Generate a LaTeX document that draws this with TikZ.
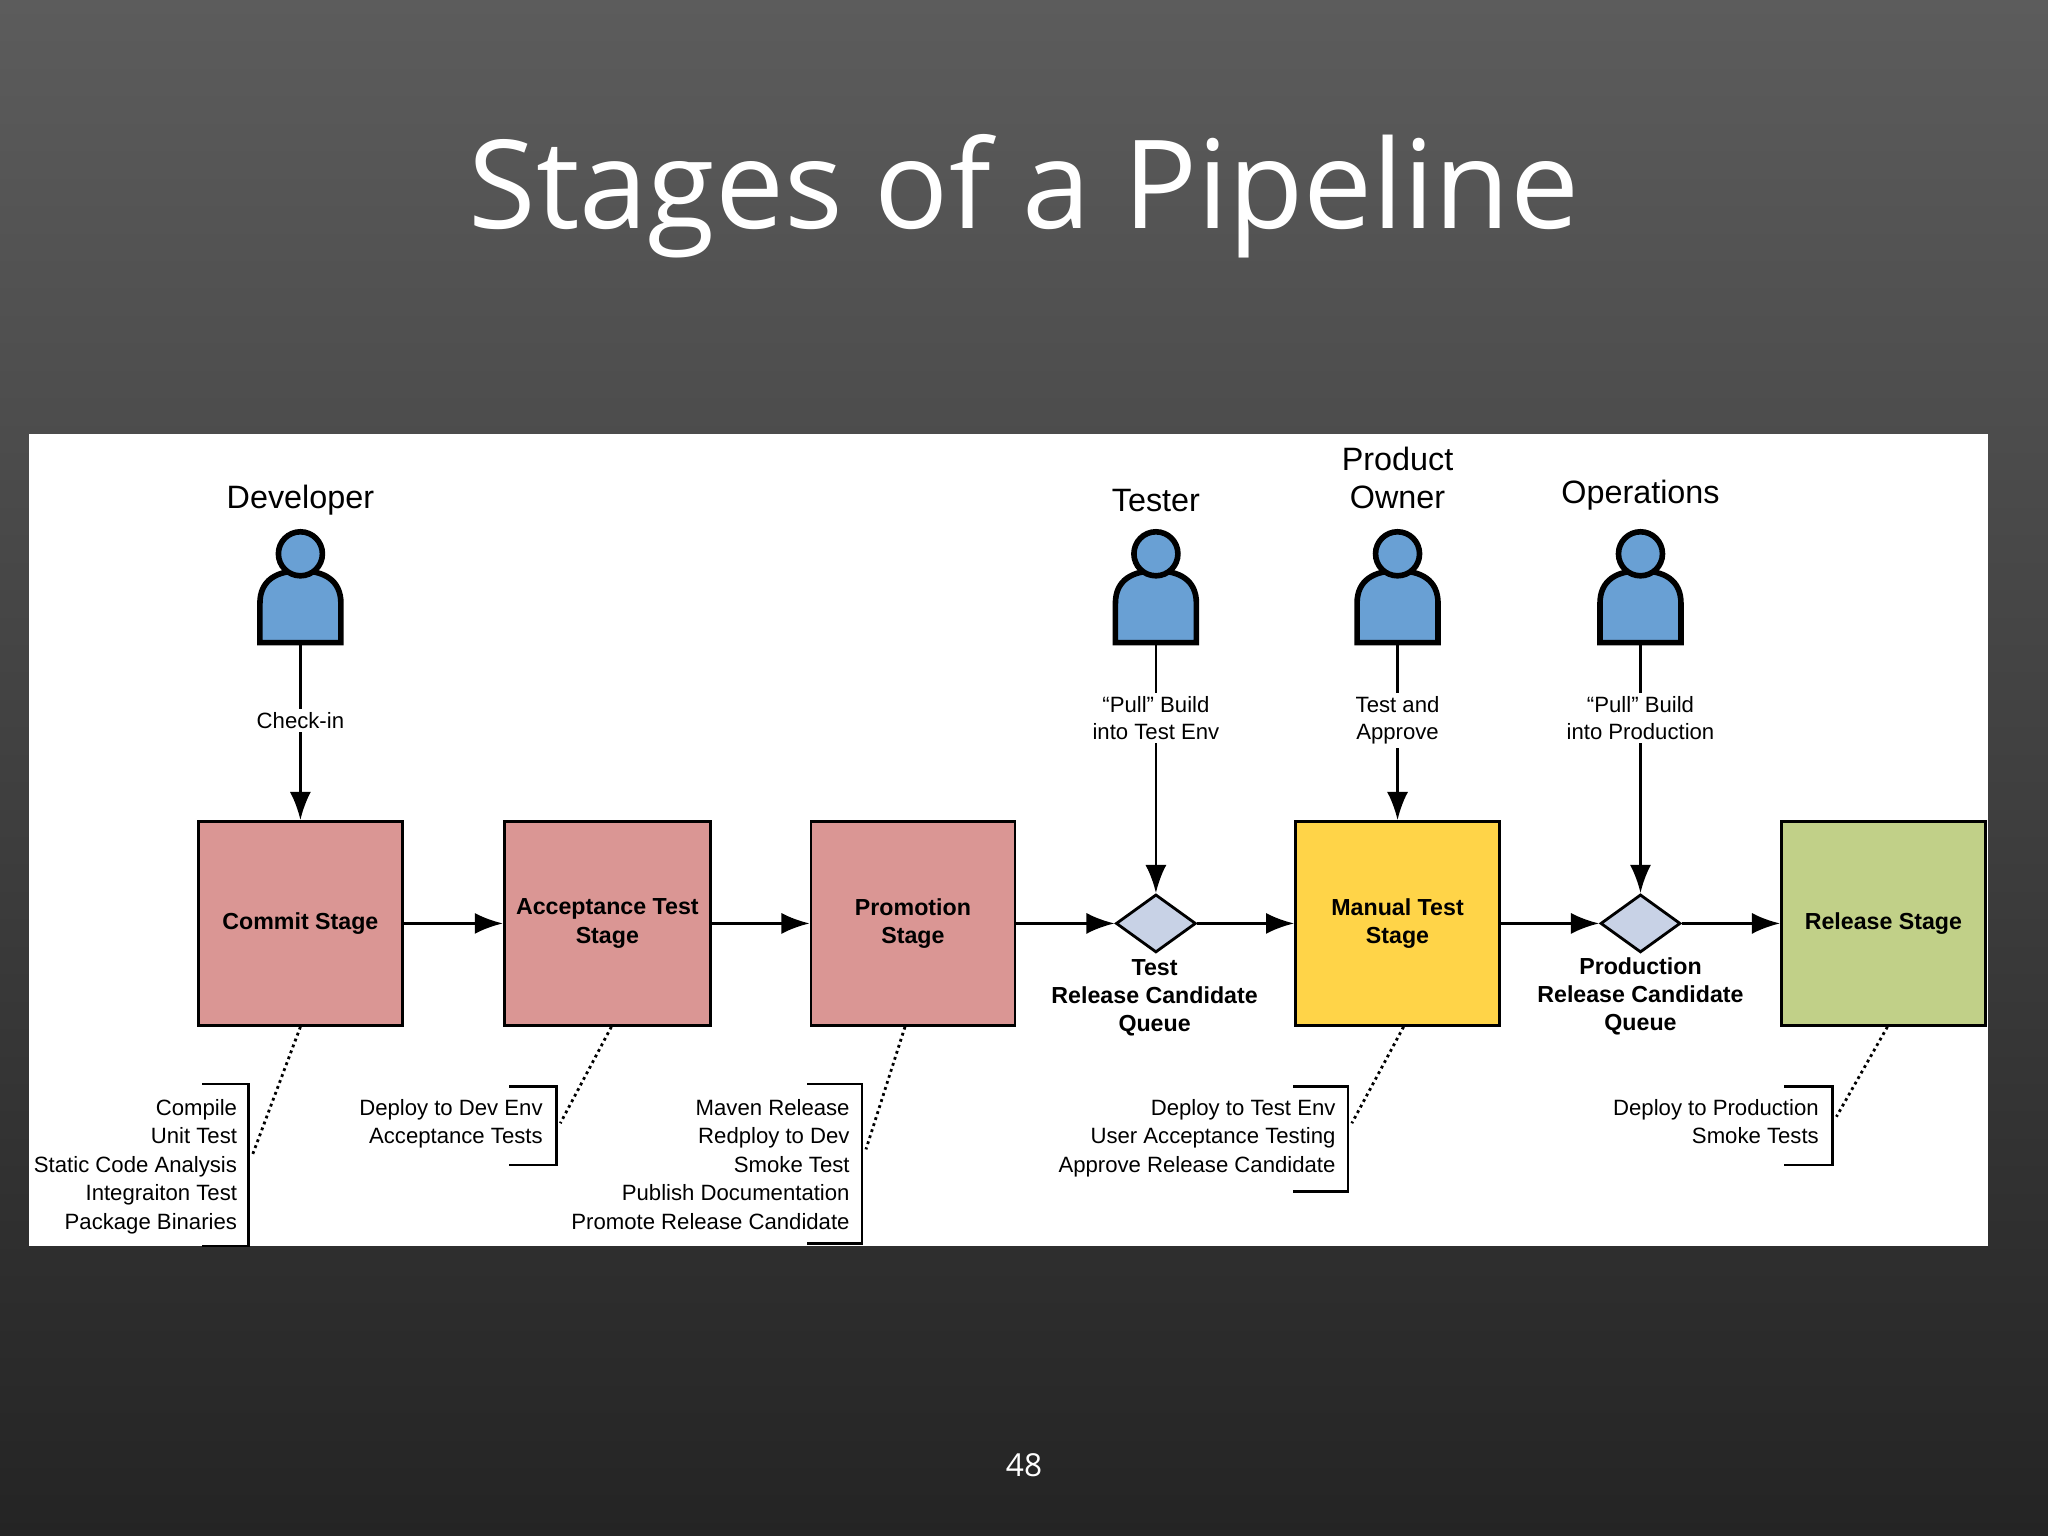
\documentclass[tikz,border=0pt]{standalone}
\usepackage{fontspec}
\setmainfont{Liberation Sans}
\newfontfamily\titlefont{Open Sans}
\usetikzlibrary{shapes.geometric,arrows.meta,positioning}
\definecolor{stagered}{RGB}{218,150,148}
\definecolor{stageyellow}{RGB}{255,212,72}
\definecolor{stagegreen}{RGB}{193,208,136}
\definecolor{queueblue}{RGB}{200,210,230}
\definecolor{userblue}{RGB}{105,160,212}
\tikzset{
   stage/.style={draw=black, thick, minimum width=2.04cm, minimum height=2.04cm,
      align=center, font=\fontsize{6.6}{8}\selectfont\bfseries},
   queue/.style={diamond, draw=black, thick, fill=queueblue, minimum width=0.8cm,
      minimum height=0.58cm, inner sep=0pt, aspect=1.4},
   qlabel/.style={align=center, font=\fontsize{6.6}{8}\selectfont\bfseries},
   role/.style={font=\fontsize{9.2}{11}\selectfont, align=center},
   act/.style={fill=white, align=center, inner sep=1pt, font=\fontsize{6.3}{7.6}\selectfont},
   tasks/.style={align=right, anchor=north east, inner sep=0pt, font=\fontsize{6.3}{8.1}\selectfont},
   flow/.style={-{Latex[length=8pt,width=6pt]}, thick},
   note/.style={densely dotted, thick},
   bracket/.style={thick},
   user/.pic={
      \draw[line width=1.6pt, fill=userblue] (-31,42) -- (-31,12) .. controls (-31,-6) and (-18,-13) .. (0,-13)
         .. controls (18,-13) and (31,-6) .. (31,12) -- (31,42) -- cycle;
      \draw[line width=1.6pt, fill=userblue] (0,-26) circle (0.22cm);
   },
}
\begin{document}
\begin{tikzpicture}[x=0.01306cm, y=-0.01306cm]
\useasboundingbox (0,0) rectangle (1568,1176);
\shade[top color={rgb,255:red,92;green,92;blue,92}, bottom color={rgb,255:red,36;green,36;blue,36}] (0,0) rectangle (1568,1176);
\node[text=white, font=\titlefont\fontsize{35}{42}\selectfont] (title) at (784,150) {Stages of a Pipeline};
\node[text=white, font=\titlefont\fontsize{9}{11}\selectfont] (page) at (784,1122) {48};
\fill[white] (22,332) rectangle (1522,954);

% stages
\node[stage, fill=stagered] (commit) at (230,707) {Commit Stage};
\node[stage, fill=stagered] (accept) at (465,707) {Acceptance Test\\Stage};
\node[stage, fill=stagered] (promo) at (699,707) {Promotion\\Stage};
\node[queue] (testq) at (885,707) {};
\node[stage, fill=stageyellow] (manual) at (1070,707) {Manual Test\\Stage};
\node[queue] (prodq) at (1256,707) {};
\node[stage, fill=stagegreen] (release) at (1442,707) {Release Stage};
\node[qlabel] (testql) at (884,764) {Test\\Release Candidate\\Queue};
\node[qlabel] (prodql) at (1256,763) {Production\\Release Candidate\\Queue};

\draw[flow] (commit) -- (accept);
\draw[flow] (accept) -- (promo);
\draw[flow] (promo) -- (testq);
\draw[flow] (testq) -- (manual);
\draw[flow] (manual) -- (prodq);
\draw[flow] (prodq) -- (release);

% roles
\foreach \name/\x in {dev/230, tester/885, owner/1070, ops/1256}
   \pic (\name) at (\x,450) {user};
\coordinate (devfoot) at (230,492);
\coordinate (testerfoot) at (885,492);
\coordinate (ownerfoot) at (1070,494);
\coordinate (opsfoot) at (1256,492);
\node[role] (devl) at (230,383) {Developer};
\node[role] (testerl) at (885,383) {Tester};
\node[role] (ownerl) at (1070,366) {Product\\Owner};
\node[role] (opsl) at (1256,379) {Operations};

\draw[flow] (devfoot) -- node[act, pos=0.44] {Check-in} (commit);
\draw[flow] (testerfoot) -- node[act, pos=0.3] {``Pull'' Build\\into Test Env} (testq);
\draw[flow] (ownerfoot) -- node[act, pos=0.43] {Test and\\Approve} (manual);
\draw[flow] (opsfoot) -- node[act, pos=0.3] {``Pull'' Build\\into Production} (prodq);

% task lists
\node[tasks] (committ) at (182,841) {Compile\\Unit Test\\Static Code Analysis\\Integraiton Test\\Package Binaries};
\node[tasks] (acceptt) at (416,841) {Deploy to Dev Env\\Acceptance Tests};
\node[tasks] (promot) at (651,841) {Maven Release\\Redploy to Dev\\Smoke Test\\Publish Documentation\\Promote Release Candidate};
\node[tasks] (manualt) at (1023,841) {Deploy to Test Env\\User Acceptance Testing\\Approve Release Candidate};
\node[tasks] (releaset) at (1393,841) {Deploy to Production\\Smoke Tests};

\draw[bracket] (155,830) -- (190,830) -- (190,954) -- (155,954);
\draw[bracket] (390,832) -- (426,832) -- (426,892) -- (390,892);
\draw[bracket] (618,830) -- (660,830) -- (660,952) -- (618,952);
\draw[bracket] (990,832) -- (1032,832) -- (1032,912) -- (990,912);
\draw[bracket] (1366,832) -- (1403,832) -- (1403,892) -- (1366,892);
\coordinate (commitb) at (193,885);
\coordinate (acceptb) at (429,860);
\coordinate (promob) at (663,880);
\coordinate (manualb) at (1035,860);
\coordinate (releaseb) at (1406,855);
\draw[note] (commit.south) -- (commitb);
\draw[note] ([xshift=0.04cm]accept.south) -- (acceptb);
\draw[note] ([xshift=-0.08cm]promo.south) -- (promob);
\draw[note] ([xshift=0.06cm]manual.south) -- (manualb);
\draw[note] ([xshift=0.04cm]release.south) -- (releaseb);
\end{tikzpicture}
\end{document}
